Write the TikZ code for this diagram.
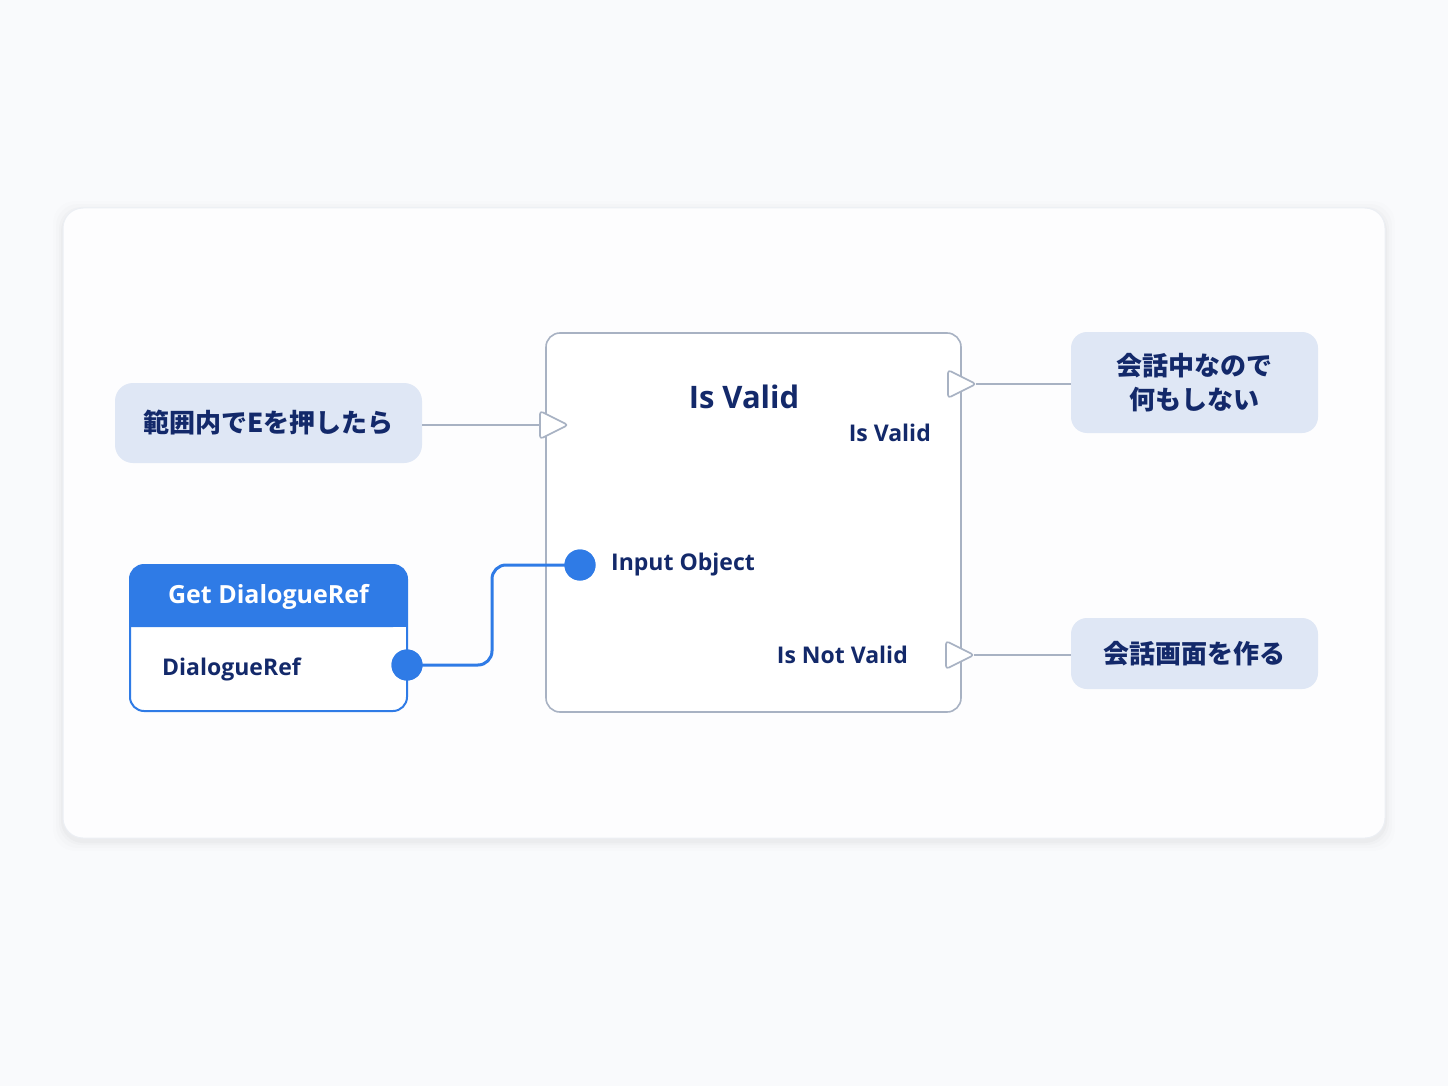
\documentclass[tikz,border=0pt]{standalone}
\usepackage{fontspec}
\setmainfont{Open Sans}
\newfontfamily\jp{Noto Sans CJK JP}
\usetikzlibrary{calc}
\definecolor{bgc}{HTML}{F9FAFC}
\definecolor{cardc}{HTML}{FDFDFE}
\definecolor{cardline}{HTML}{ECEFF4}
\definecolor{evfill}{HTML}{DFE7F5}
\definecolor{navy}{HTML}{13296A}
\definecolor{pinblue}{HTML}{2F7BE6}
\definecolor{grayline}{HTML}{A8B2C3}
\tikzset{
  evbox/.style={fill=evfill, rounded corners=18pt, draw=none, align=center, text=navy, font=\jp\bfseries\fontsize{26}{34}\selectfont},
  lbl/.style={text=navy, font=\fontsize{23}{28}\selectfont\bfseries, inner sep=0pt},
  execwire/.style={draw=grayline, line width=1.6pt},
  datawire/.style={draw=pinblue, line width=3pt, rounded corners=14pt},
  pin/.style={circle, fill=pinblue, minimum size=31pt, inner sep=0pt},
  execpin/.style={draw=grayline, fill=white, line width=1.6pt, rounded corners=3pt, line join=round}
}
\begin{document}
\begin{tikzpicture}[x=1pt,y=-1pt]
\useasboundingbox (0,0) rectangle (1448,1086);
\fill[bgc] (0,0) rectangle (1448,1086);
% card shadow
\foreach \i/\o in {10/0.008,7/0.011,4/0.014,2/0.018}{
  \fill[black, opacity=\o, rounded corners=22pt] (63-\i,208-\i+3) rectangle (1385+\i,838+\i+3);
}
\draw[cardline, fill=cardc, rounded corners=20pt, line width=1pt] (63,208) rectangle (1385,838);

% main node
\node[draw=grayline, fill=white, line width=1.6pt, rounded corners=14pt, minimum width=415pt, minimum height=379pt, inner sep=0pt] (isvalid) at (753.5,522.5) {};
\node[text=navy, font=\fontsize{31}{36}\selectfont\bfseries, inner sep=0pt] (title) at (744,397) {Is Valid};
\node[lbl, anchor=east] (outvalid) at (931,433) {Is Valid};
\node[lbl, anchor=east] (outnot) at (908,655) {Is Not Valid};
\node[lbl, anchor=west] (inobj) at (611,565) {Input Object};

% event box left
\node[evbox, minimum width=307pt, minimum height=80pt] (ev) at (268.5,423) {範囲内でEを押したら};
% right boxes
\node[evbox, minimum width=247pt, minimum height=101pt, rounded corners=16pt] (nothing) at (1194.5,382.5) {会話中なので\\何もしない};
\node[evbox, minimum width=247pt, minimum height=71pt, rounded corners=16pt] (make) at (1194.5,653.5) {会話画面を作る};

% exec pins
\coordinate (inexec) at (540,425);
\coordinate (outexec1) at (948,384);
\coordinate (outexec2) at (946,655);
\draw[execwire] (ev.east |- inexec) -- (inexec);
\draw[execpin] (inexec) ++(0,-14) -- ++(28,14) -- ++(-28,14) -- cycle;
\draw[execwire] ($(outexec1)+(28,0)$) -- (nothing.west |- outexec1);
\draw[execpin] (outexec1) ++(0,-14) -- ++(28,14) -- ++(-28,14) -- cycle;
\draw[execwire] ($(outexec2)+(28,0)$) -- (make.west |- outexec2);
\draw[execpin] (outexec2) ++(0,-14) -- ++(28,14) -- ++(-28,14) -- cycle;

% Get DialogueRef node
\fill[white, rounded corners=14pt] (130,565) rectangle (407,711);
\fill[pinblue, rounded corners=14pt] (130,627) -- (130,565) -- (407,565) -- (407,627) [sharp corners]-- cycle;
\fill[pinblue] (130,610) rectangle (407,627);
\draw[pinblue, line width=2pt, rounded corners=14pt] (130,565) rectangle (407,711);
\node[text=white, font=\fontsize{25}{30}\selectfont\bfseries, inner sep=0pt] (getref) at (268.5,597) {Get DialogueRef};
\node[lbl, anchor=west] (reflbl) at (162,669) {DialogueRef};

% pins and wire
\node[pin] (outpin) at (407,665) {};
\node[pin] (inpin) at (580,565) {};
\draw[datawire] (outpin.center) -- (492,665) -- (492,565) -- (inpin.center);
\node[pin] at (407,665) {};
\node[pin] at (580,565) {};
\end{tikzpicture}
\end{document}
